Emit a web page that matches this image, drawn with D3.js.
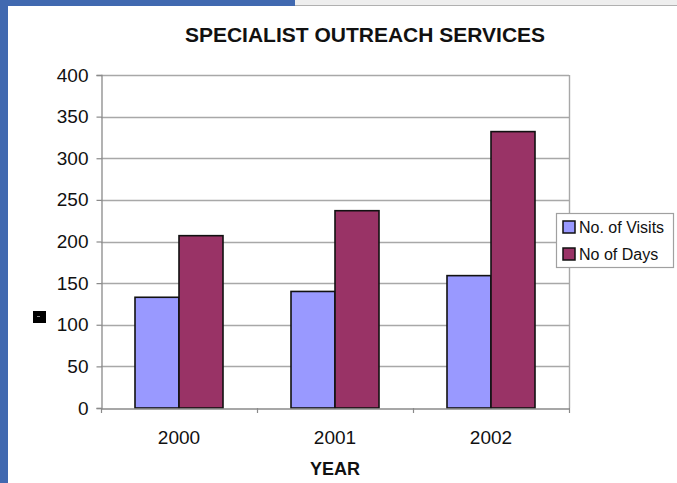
<!DOCTYPE html>
<html>
<head>
<meta charset="utf-8">
<script src="https://cdn.jsdelivr.net/npm/d3@7"></script>
<style>
html,body{margin:0;padding:0;background:#fff;}
svg{display:block;}
text{font-family:"Liberation Sans",Arial,Helvetica,sans-serif;fill:#111;}
</style>
</head>
<body>
<svg id="chart" width="677" height="483"></svg>
<script>
const categories = ["2000", "2001", "2002"];
const seriesNames = ["No. of Visits", "No of Days"];
const visits = [133, 140, 159];
const days = [207, 237, 332];
const yTicks = [0, 50, 100, 150, 200, 250, 300, 350, 400];
const colors = ["#9999ff", "#993366"];

(function () {
const svg = d3.select("#chart");
const W = 677, H = 483;

// slide frame
svg.append("rect").attr("x", 0).attr("y", 0).attr("width", W).attr("height", 5).attr("fill", "#eeeeee");
svg.append("line").attr("x1", 0).attr("x2", W).attr("y1", 5.5).attr("y2", 5.5).attr("stroke", "#b0b0b0").attr("stroke-width", 1);
svg.append("rect").attr("x", 0).attr("y", 0).attr("width", 295).attr("height", 6).attr("fill", "#4169b0");
svg.append("rect").attr("x", 0).attr("y", 0).attr("width", 8).attr("height", H).attr("fill", "#4169b0");

const pLeft = 101, pRight = 569, pTop = 75, pBottom = 408;

const x = d3.scaleBand().domain(categories).range([pLeft, pRight]).padding(0);
const groupFrac = 88 / 156;
const xInner = d3.scaleBand().domain(seriesNames).range([0, x.bandwidth() * groupFrac]).padding(0);
const y = d3.scaleLinear().domain([0, 400]).range([pBottom, pTop]);

// gridlines
svg.append("g").selectAll("line").data(yTicks.filter(d => d > 0)).join("line")
  .attr("x1", pLeft).attr("x2", pRight)
  .attr("y1", d => Math.round(y(d)) + 0.5).attr("y2", d => Math.round(y(d)) + 0.5)
  .attr("stroke", "#a8a8a8").attr("stroke-width", 1.4);
// right border
svg.append("line").attr("x1", pRight + 0.5).attr("x2", pRight + 0.5).attr("y1", pTop).attr("y2", pBottom)
  .attr("stroke", "#a8a8a8").attr("stroke-width", 1.4);

// y axis
const yAxis = d3.axisLeft(y).tickValues(yTicks).tickSize(5).tickPadding(8);
const gy = svg.append("g").attr("transform", `translate(${pLeft + 0.5},0)`).call(yAxis);
gy.select(".domain").attr("stroke", "#8a8a8a").attr("stroke-width", 1.3);
gy.selectAll(".tick line").attr("stroke", "#8a8a8a").attr("stroke-width", 1.2);
gy.selectAll(".tick text").attr("font-size", 19).attr("fill", "#111")
  .attr("font-family", "'Liberation Sans', Arial, sans-serif");

// bars
const data = categories.map((c, i) => ({ cat: c, vals: [visits[i], days[i]] }));
const groups = svg.append("g").selectAll("g").data(data).join("g")
  .attr("transform", d => `translate(${x(d.cat) + (x.bandwidth() * (1 - groupFrac)) / 2},0)`);
groups.selectAll("rect").data(d => d.vals.map((v, j) => ({ name: seriesNames[j], v, j }))).join("rect")
  .attr("x", d => xInner(d.name))
  .attr("width", xInner.bandwidth())
  .attr("y", d => y(d.v))
  .attr("height", d => y(0) - y(d.v))
  .attr("fill", d => colors[d.j])
  .attr("stroke", "#111")
  .attr("stroke-width", 1.6);

// x axis
const xAxis = d3.axisBottom(x).tickSize(0).tickPadding(22);
const gx = svg.append("g").attr("transform", `translate(0,${pBottom + 0.5})`).call(xAxis);
gx.select(".domain").attr("stroke", "#8a8a8a").attr("stroke-width", 1.3);
gx.selectAll(".tick text").attr("font-size", 19).attr("fill", "#111")
  .attr("font-family", "'Liberation Sans', Arial, sans-serif");
// category separator ticks
const sepPositions = categories.map(c => x(c)).concat([x(categories[categories.length - 1]) + x.bandwidth()]);
svg.append("g").selectAll("line").data(sepPositions).join("line")
  .attr("x1", d => d + 0.5).attr("x2", d => d + 0.5)
  .attr("y1", pBottom).attr("y2", pBottom + 5)
  .attr("stroke", "#8a8a8a").attr("stroke-width", 1.2);

// title
svg.append("text").attr("x", 365).attr("y", 41.5).attr("text-anchor", "middle")
  .attr("font-size", 21).attr("font-weight", "bold").text("SPECIALIST OUTREACH SERVICES");
// x title
svg.append("text").attr("x", (pLeft + pRight) / 2).attr("y", 475).attr("text-anchor", "middle")
  .attr("font-size", 18).attr("font-weight", "bold").text("YEAR");

// small black marker (y axis title placeholder)
svg.append("rect").attr("x", 33).attr("y", 311).attr("width", 13).attr("height", 12).attr("fill", "#000");
svg.append("line").attr("x1", 37).attr("x2", 40).attr("y1", 316.5).attr("y2", 316.5).attr("stroke", "#888").attr("stroke-width", 1);

// legend
const lg = svg.append("g").attr("transform", "translate(556,213)");
lg.append("rect").attr("x", 0.5).attr("y", 0.5).attr("width", 117).attr("height", 54)
  .attr("fill", "#fff").attr("stroke", "#a0a0a0").attr("stroke-width", 1.2);
const items = lg.selectAll("g.item").data(seriesNames).join("g").attr("class", "item")
  .attr("transform", (d, i) => `translate(7,${8 + i * 27})`);
items.append("rect").attr("width", 12).attr("height", 12)
  .attr("fill", (d, i) => colors[i]).attr("stroke", "#111").attr("stroke-width", 1.5);
items.append("text").attr("x", 16).attr("y", 12).attr("font-size", 16).text(d => d);
})();
</script>
</body>
</html>
